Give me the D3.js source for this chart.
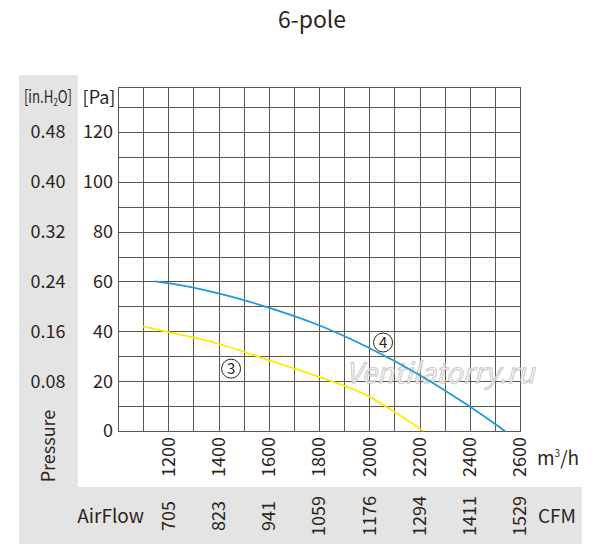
<!DOCTYPE html>
<html>
<head>
<meta charset="utf-8">
<script src="https://cdn.jsdelivr.net/npm/d3@7"></script>
<style>
  html, body { margin: 0; padding: 0; background: #fff; }
  text { font-family: "Noto Sans CJK SC", "Noto Sans", sans-serif; }
</style>
</head>
<body>
<div id="chart"></div>
<script>
const width = 600;
const height = 560;
const textColor = '#2e241c';
const gridColor = '#5f554b';
const panelGrey = '#e4e4e4';

// flow ticks (m3/h) and matching CFM labels
const flowTicks = [1200, 1400, 1600, 1800, 2000, 2200, 2400, 2600];
const cfmLabels = ['705', '823', '941', '1059', '1176', '1294', '1411', '1529'];

// pressure ticks (Pa) and inch water labels
const paTicks = [0, 20, 40, 60, 80, 100, 120];
const inH2OLabels = ['', '0.08', '0.16', '0.24', '0.32', '0.40', '0.48'];

// curve 3 (yellow): [flow m3/h, pressure Pa]
const curve3 = [
    [1100, 42], [1200, 39.7], [1400, 35], [1600, 28.4],
    [1800, 21.7], [2000, 13.8], [2100, 7.7], [2215, 0]
];
// curve 4 (blue)
const curve4 = [
    [1145, 60], [1200, 59.3], [1400, 55.2], [1600, 49.5],
    [1800, 42.4], [2000, 33.3], [2200, 22.5], [2400, 9.8], [2540, 0]
];

const plot = {left: 118, right: 520, top: 87, bottom: 431};

const x = d3.scaleLinear().domain([1000, 2600]).range([plot.left, plot.right]);
const y = d3.scaleLinear().domain([0, 138]).range([plot.bottom, plot.top]);

const svg = d3.select('#chart')
    .append('svg')
    .attr('width', width)
    .attr('height', height);

// grey panels
svg.append('rect')
    .attr('x', 19).attr('y', 75)
    .attr('width', 59).attr('height', 469)
    .attr('fill', panelGrey);
svg.append('rect')
    .attr('x', 19).attr('y', 487)
    .attr('width', 563).attr('height', 57)
    .attr('fill', panelGrey);

// title
svg.append('text')
    .attr('x', 312).attr('y', 28)
    .attr('text-anchor', 'middle')
    .attr('font-size', 23)
    .attr('fill', textColor)
    .text('6-pole');

// grid
const grid = svg.append('g');
grid.selectAll('.vline')
    .data(d3.range(1000, 2601, 100))
    .enter().append('line')
    .attr('x1', d => Math.round(x(d)) + 0.5)
    .attr('x2', d => Math.round(x(d)) + 0.5)
    .attr('y1', plot.top)
    .attr('y2', plot.bottom)
    .attr('stroke', gridColor)
    .attr('stroke-width', 1);
grid.selectAll('.hline')
    .data(d3.range(0, 131, 10).concat([138]))
    .enter().append('line')
    .attr('x1', plot.left)
    .attr('x2', plot.right + 1)
    .attr('y1', d => Math.round(y(d)) + 0.5)
    .attr('y2', d => Math.round(y(d)) + 0.5)
    .attr('stroke', gridColor)
    .attr('stroke-width', 1);

// watermark
svg.append('text')
    .attr('x', 440).attr('y', 383)
    .attr('text-anchor', 'middle')
    .attr('font-size', 28)
    .attr('font-style', 'italic')
    .attr('font-family', 'DejaVu Sans')
    .attr('fill', '#f4f4f4')
    .attr('fill-opacity', 0.85)
    .attr('stroke', '#b8b8b8')
    .attr('stroke-width', 0.9)
    .attr('stroke-opacity', 0.8)
    .text('Ventilatorry.ru');

// curves
const line = d3.line()
    .x(d => x(d[0]))
    .y(d => y(d[1]))
    .curve(d3.curveMonotoneX);

svg.append('path')
    .datum(curve3)
    .attr('d', line)
    .attr('fill', 'none')
    .attr('stroke', '#ffea00')
    .attr('stroke-width', 1.8);

svg.append('path')
    .datum(curve4)
    .attr('d', line)
    .attr('fill', 'none')
    .attr('stroke', '#1a9ad9')
    .attr('stroke-width', 1.7);

// curve numbers
const curveTags = [
    {label: '3', flow: 1450, pa: 25},
    {label: '4', flow: 2055, pa: 35.5}
];
const tags = svg.selectAll('.tag')
    .data(curveTags)
    .enter().append('g')
    .attr('transform', d => `translate(${x(d.flow)},${y(d.pa)})`);
tags.append('circle')
    .attr('r', 9.5)
    .attr('fill', '#fff')
    .attr('stroke', textColor)
    .attr('stroke-width', 1);
tags.append('text')
    .attr('text-anchor', 'middle')
    .attr('dy', '0.36em')
    .attr('font-size', 15)
    .attr('fill', textColor)
    .text(d => d.label);

// Pa tick labels
svg.selectAll('.palabel')
    .data(paTicks)
    .enter().append('text')
    .attr('x', 113)
    .attr('y', d => y(d))
    .attr('dy', '0.36em')
    .attr('text-anchor', 'end')
    .attr('font-size', 18)
    .attr('fill', textColor)
    .text(d => d);

// in.H2O tick labels
svg.selectAll('.inlabel')
    .data(paTicks)
    .enter().append('text')
    .attr('x', 48)
    .attr('y', d => y(d))
    .attr('dy', '0.36em')
    .attr('text-anchor', 'middle')
    .attr('font-size', 18)
    .attr('fill', textColor)
    .text((d, i) => inH2OLabels[i]);

// unit labels
svg.append('text')
    .attr('x', 99).attr('y', 104)
    .attr('text-anchor', 'middle')
    .attr('font-size', 18)
    .attr('fill', textColor)
    .text('[Pa]');

const inUnit = svg.append('text')
    .attr('x', 48).attr('y', 103)
    .attr('text-anchor', 'middle')
    .attr('font-size', 17)
    .attr('fill', textColor)
    .attr('transform', 'translate(48,103) scale(0.78,1) translate(-48,-103)');
inUnit.append('tspan').text('[in.H');
inUnit.append('tspan').attr('font-size', 10).attr('dy', 3).text('2');
inUnit.append('tspan').attr('dy', -3).text('O]');

svg.append('text')
    .attr('transform', 'translate(55,446) rotate(-90)')
    .attr('text-anchor', 'middle')
    .attr('font-size', 18)
    .attr('fill', textColor)
    .text('Pressure');

// flow tick labels (rotated)
svg.selectAll('.flowlabel')
    .data(flowTicks)
    .enter().append('text')
    .attr('transform', d => `translate(${x(d)},437) rotate(-90)`)
    .attr('dy', '0.36em')
    .attr('text-anchor', 'end')
    .attr('font-size', 18)
    .attr('fill', textColor)
    .text(d => d);

// CFM labels (rotated)
svg.selectAll('.cfmlabel')
    .data(flowTicks)
    .enter().append('text')
    .attr('transform', d => `translate(${x(d)},516) rotate(-90)`)
    .attr('dy', '0.36em')
    .attr('text-anchor', 'middle')
    .attr('font-size', 18)
    .attr('fill', textColor)
    .text((d, i) => cfmLabels[i]);

// m3/h
const m3 = svg.append('text')
    .attr('x', 537).attr('y', 465)
    .attr('font-size', 19)
    .attr('fill', textColor);
m3.append('tspan').text('m');
m3.append('tspan').attr('font-size', 10).attr('dy', -8).text('3');
m3.append('tspan').attr('dy', 8).text('/h');

svg.append('text')
    .attr('x', 538).attr('y', 523)
    .attr('font-size', 19)
    .attr('fill', textColor)
    .text('CFM');

svg.append('text')
    .attr('x', 144).attr('y', 523)
    .attr('text-anchor', 'end')
    .attr('font-size', 19)
    .attr('fill', textColor)
    .text('AirFlow');
</script>
</body>
</html>
